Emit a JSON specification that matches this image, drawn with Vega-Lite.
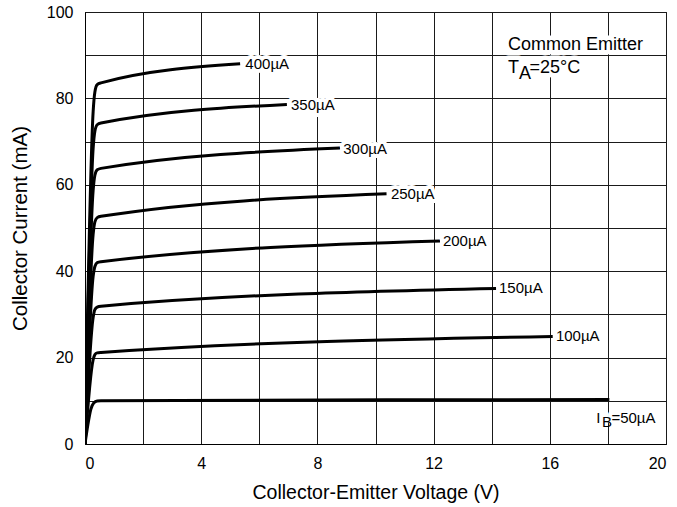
{
  "$schema": "https://vega.github.io/schema/vega-lite/v6.json",
  "width": 581,
  "height": 432,
  "autosize": {"type": "none"},
  "padding": {"left": 85, "top": 12, "right": 11, "bottom": 63},
  "background": "white",
  "config": {
    "view": {"stroke": "#000", "strokeWidth": 1},
    "font": "Liberation Sans",
    "axis": {
      "labelFont": "Liberation Sans",
      "titleFont": "Liberation Sans",
      "labelColor": "#000",
      "titleColor": "#000",
      "titleFontWeight": "normal",
      "domainColor": "#000",
      "gridColor": "#1a1a1a",
      "gridOpacity": 1,
      "gridWidth": 1,
      "ticks": false,
      "tickSize": 0,
      "labelFontSize": 16
    }
  },
  "datasets": {
    "curves": [
      {"ib": "400µA", "v": 0, "i": 0},
      {"ib": "400µA", "v": 0.28, "i": 76.9},
      {"ib": "400µA", "v": 0.34, "i": 81.5},
      {"ib": "400µA", "v": 0.42, "i": 83.2},
      {"ib": "400µA", "v": 0.55, "i": 83.6},
      {"ib": "400µA", "v": 5.34, "i": 88.0},
      {"ib": "350µA", "v": 0, "i": 0},
      {"ib": "350µA", "v": 0.28, "i": 68.4},
      {"ib": "350µA", "v": 0.34, "i": 72.4},
      {"ib": "350µA", "v": 0.42, "i": 73.9},
      {"ib": "350µA", "v": 0.55, "i": 74.3},
      {"ib": "350µA", "v": 6.95, "i": 78.6},
      {"ib": "300µA", "v": 0, "i": 0},
      {"ib": "300µA", "v": 0.28, "i": 58.7},
      {"ib": "300µA", "v": 0.34, "i": 62.2},
      {"ib": "300µA", "v": 0.42, "i": 63.5},
      {"ib": "300µA", "v": 0.55, "i": 63.8},
      {"ib": "300µA", "v": 8.78, "i": 68.5},
      {"ib": "250µA", "v": 0, "i": 0},
      {"ib": "250µA", "v": 0.28, "i": 48.5},
      {"ib": "250µA", "v": 0.34, "i": 51.4},
      {"ib": "250µA", "v": 0.42, "i": 52.4},
      {"ib": "250µA", "v": 0.55, "i": 52.7},
      {"ib": "250µA", "v": 10.38, "i": 57.9},
      {"ib": "200µA", "v": 0, "i": 0},
      {"ib": "200µA", "v": 0.28, "i": 38.8},
      {"ib": "200µA", "v": 0.34, "i": 41.1},
      {"ib": "200µA", "v": 0.42, "i": 42.0},
      {"ib": "200µA", "v": 0.55, "i": 42.2},
      {"ib": "200µA", "v": 12.22, "i": 47.0},
      {"ib": "150µA", "v": 0, "i": 0},
      {"ib": "150µA", "v": 0.28, "i": 29.3},
      {"ib": "150µA", "v": 0.34, "i": 31.1},
      {"ib": "150µA", "v": 0.42, "i": 31.7},
      {"ib": "150µA", "v": 0.55, "i": 31.9},
      {"ib": "150µA", "v": 14.15, "i": 36.0},
      {"ib": "100µA", "v": 0, "i": 0},
      {"ib": "100µA", "v": 0.28, "i": 19.5},
      {"ib": "100µA", "v": 0.34, "i": 20.7},
      {"ib": "100µA", "v": 0.42, "i": 21.1},
      {"ib": "100µA", "v": 0.55, "i": 21.2},
      {"ib": "100µA", "v": 16.1, "i": 24.9},
      {"ib": "50µA", "v": 0, "i": 0},
      {"ib": "50µA", "v": 0.1, "i": 4.5},
      {"ib": "50µA", "v": 0.2, "i": 8.0},
      {"ib": "50µA", "v": 0.3, "i": 9.5},
      {"ib": "50µA", "v": 0.42, "i": 9.95},
      {"ib": "50µA", "v": 0.55, "i": 10.0},
      {"ib": "50µA", "v": 18.05, "i": 10.3}
    ],
    "labels": [
      {"text": "400µA", "v": 5.52, "i": 88.0},
      {"text": "350µA", "v": 7.09, "i": 78.4},
      {"text": "300µA", "v": 8.89, "i": 68.4},
      {"text": "250µA", "v": 10.53, "i": 57.9},
      {"text": "200µA", "v": 12.32, "i": 47.0},
      {"text": "150µA", "v": 14.25, "i": 36.0},
      {"text": "100µA", "v": 16.21, "i": 24.9}
    ],
    "notes": [
      {"text": "Common Emitter", "v": 14.56, "i": 91.27, "size": "big"},
      {"text": "T", "v": 14.56, "i": 85.88, "size": "big"},
      {"text": "=25°C", "v": 15.3, "i": 85.88, "size": "big"},
      {"text": "I", "v": 17.6, "i": 4.86, "size": "mid"},
      {"text": "=50µA", "v": 18.12, "i": 4.86, "size": "mid"}
    ],
    "subs": [
      {"text": "A", "v": 14.94, "i": 84.6, "size": "big"},
      {"text": "B", "v": 17.8, "i": 4.0, "size": "mid"}
    ]
  },
  "encoding": {
    "x": {
      "field": "v", "type": "quantitative",
      "scale": {"domain": [0, 20], "nice": false, "zero": false},
      "axis": {
        "title": "Collector-Emitter Voltage (V)",
        "titleFontSize": 19.5,
        "titlePadding": 12,
        "values": [0, 2, 4, 6, 8, 10, 12, 14, 16, 18, 20],
        "labelExpr": "datum.value % 4 === 0 ? datum.label : ''",
        "labelPadding": 11,
        "grid": true
      }
    },
    "y": {
      "field": "i", "type": "quantitative",
      "scale": {"domain": [0, 100], "nice": false, "zero": false},
      "axis": {
        "title": "Collector Current (mA)",
        "titleFontSize": 20.5,
        "titlePadding": 16,
        "values": [0, 10, 20, 30, 40, 50, 60, 70, 80, 90, 100],
        "labelExpr": "datum.value % 20 === 0 ? datum.label : ''",
        "labelPadding": 12,
        "grid": true
      }
    }
  },
  "layer": [
    {
      "data": {"name": "curves"},
      "mark": {"type": "line", "color": "#000", "strokeWidth": 3, "interpolate": "monotone", "clip": true},
      "encoding": {"detail": {"field": "ib"}, "order": {"field": "v"}}
    },
    {
      "data": {"name": "labels"},
      "mark": {"type": "text", "align": "left", "baseline": "middle", "fontSize": 15, "font": "Liberation Sans", "stroke": "white", "strokeWidth": 8, "strokeJoin": "round", "fill": "white"},
      "encoding": {"text": {"field": "text"}}
    },
    {
      "data": {"name": "notes"},
      "mark": {"type": "text", "align": "left", "baseline": "alphabetic", "font": "Liberation Sans", "stroke": "white", "strokeWidth": 9, "strokeJoin": "round", "fill": "white"},
      "encoding": {
        "text": {"field": "text"},
        "size": {"field": "size", "type": "nominal", "scale": {"domain": ["big", "mid"], "range": [18, 15]}, "legend": null}
      }
    },
    {
      "data": {"name": "labels"},
      "mark": {"type": "text", "align": "left", "baseline": "middle", "fontSize": 15, "font": "Liberation Sans", "color": "#000"},
      "encoding": {"text": {"field": "text"}}
    },
    {
      "data": {"name": "notes"},
      "mark": {"type": "text", "align": "left", "baseline": "alphabetic", "font": "Liberation Sans", "color": "#000"},
      "encoding": {
        "text": {"field": "text"},
        "size": {"field": "size", "type": "nominal", "scale": {"domain": ["big", "mid"], "range": [18, 15]}, "legend": null}
      }
    },
    {
      "data": {"name": "subs"},
      "mark": {"type": "text", "align": "left", "baseline": "alphabetic", "font": "Liberation Sans", "color": "#000"},
      "encoding": {
        "text": {"field": "text"},
        "size": {"field": "size", "type": "nominal", "scale": {"domain": ["big", "mid"], "range": [11.5, 9]}, "legend": null}
      }
    }
  ]
}
